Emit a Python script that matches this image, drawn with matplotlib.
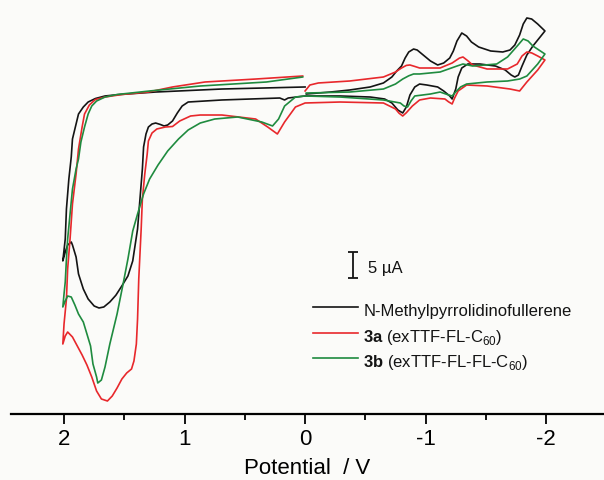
import numpy as np
import matplotlib
matplotlib.use("Agg")
import matplotlib.pyplot as plt

plt.rcParams['font.family'] = ['Liberation Sans', 'DejaVu Sans']
plt.rcParams['mathtext.fontset'] = 'custom'
plt.rcParams['mathtext.rm'] = 'Liberation Sans'
plt.rcParams['mathtext.bf'] = 'Liberation Sans:bold'
plt.rcParams['axes.unicode_minus'] = False

# cyclic voltammograms, potential in V, current in uA (cathodic up)
# each path: 0 -> -2 V, back to 0, on to +2 V, back to 0
nmp_potential = [-0.01, -0.21, -0.37, -0.54, -0.65, -0.72, -0.76, -0.80, -0.83, -0.86,
                 -0.90, -0.93, -0.97, -1.04, -1.10, -1.15, -1.20, -1.23, -1.26, -1.30,
                 -1.34, -1.38, -1.44, -1.54, -1.64, -1.70, -1.74, -1.78, -1.81, -1.84,
                 -1.88, -1.93, -1.99,
                 -1.95, -1.89, -1.84, -1.80, -1.77, -1.74, -1.71, -1.66, -1.58, -1.45,
                 -1.35, -1.30, -1.27, -1.25, -1.22, -1.20, -1.15, -1.10, -1.01, -0.95,
                 -0.91, -0.87, -0.84, -0.81, -0.77, -0.72, -0.66, -0.54, -0.29, 0.00,
                 0.14, 0.17, 0.21, 0.69, 0.97, 1.02, 1.06, 1.10, 1.14, 1.17,
                 1.20, 1.24, 1.27, 1.30, 1.32, 1.34, 1.35, 1.37, 1.39, 1.43,
                 1.47, 1.52, 1.57, 1.62, 1.67, 1.71, 1.75, 1.80, 1.84, 1.88,
                 1.90, 1.93, 1.94, 1.97, 1.99, 2.01,
                 1.99, 1.98, 1.96, 1.94, 1.93, 1.90, 1.88, 1.84, 1.80, 1.74,
                 1.66, 1.54, 1.24, 0.69, 0.00]
nmp_current = [0.0, 0.38, 0.77, 1.35, 2.12, 3.27, 4.42, 5.38, 6.92, 8.08,
               8.65, 8.46, 7.69, 6.35, 5.58, 5.96, 6.92, 8.27, 10.19, 11.73,
               11.15, 10.0, 9.04, 8.27, 8.08, 8.46, 9.42, 11.35, 13.46, 14.62,
               14.42, 13.46, 12.12,
               10.96, 9.23, 7.5, 5.38, 3.65, 3.27, 3.65, 4.62, 5.38, 5.77,
               5.77, 5.0, 3.27, 0.96, -0.96, -0.38, 0.58, 1.35, 1.73, 1.92,
               1.35, -0.19, -2.5, -3.65, -3.08, -1.73, -0.96, -0.58, -0.38, -0.38,
               -0.77, -1.15, -0.77, -1.15, -1.54, -2.31, -3.65, -5.19, -5.96, -6.15,
               -5.87, -5.58, -5.77, -6.35, -7.69, -10.19, -14.42, -20.19, -25.96, -32.1,
               -35.0, -36.9, -38.7, -40.0, -40.96, -41.15, -40.77, -39.42, -37.5, -34.6,
               -31.35, -29.04, -28.46, -29.04, -30.38, -32.1,
               -27.9, -22.1, -16.35, -12.1, -8.65, -5.77, -3.85, -2.5, -1.54, -0.87,
               -0.38, -0.1, 0.38, 0.96, 1.35]

c3a_potential = [0.00, -0.04, -0.11, -0.37, -0.65, -0.75, -0.80, -0.84, -0.87, -0.91,
                 -0.95, -1.12, -1.22, -1.28, -1.31, -1.35, -1.39, -1.51, -1.68, -1.76,
                 -1.80, -1.84, -1.88, -1.93, -1.99,
                 -1.93, -1.84, -1.78, -1.70, -1.51, -1.34, -1.27, -1.24, -1.22, -1.19,
                 -1.16, -1.04, -0.95, -0.89, -0.84, -0.81, -0.78, -0.75, -0.65, -0.29,
                 0.00,
                 0.08, 0.17, 0.23, 0.31, 0.41, 0.69, 0.87, 0.95, 1.04, 1.10,
                 1.16, 1.23, 1.27, 1.30, 1.31, 1.33, 1.35, 1.36, 1.38, 1.39,
                 1.40, 1.42, 1.44, 1.48, 1.52, 1.56, 1.60, 1.64, 1.69, 1.73,
                 1.77, 1.81, 1.85, 1.89, 1.93, 1.97, 1.99, 2.01,
                 2.00, 1.98, 1.97, 1.95, 1.93, 1.90, 1.88, 1.85, 1.83, 1.79,
                 1.74, 1.66, 1.52, 1.30, 1.10, 0.83, 0.41, 0.02]
c3a_current = [0.58, 1.73, 2.12, 2.5, 3.27, 4.23, 5.0, 5.5, 5.58, 5.3,
               5.0, 5.0, 5.96, 6.9, 7.12, 6.4, 5.58, 4.81, 4.81, 5.77,
               7.31, 8.08, 7.9, 7.31, 6.54,
               4.62, 2.31, 0.58, 0.96, 1.54, 1.73, 0.58, -0.8, -1.92, -1.5,
               -0.96, -0.77, -1.15, -2.31, -3.6, -4.23, -3.7, -2.88, -1.73, -1.54,
               -1.73,
               -2.5, -5.38, -7.69, -6.35, -4.81, -4.04, -4.04, -4.23, -5.19, -6.25,
               -6.35, -6.73, -7.5, -9.04, -11.54, -15.38, -20.19, -25.96, -35.58, -43.27,
               -48.08, -51.35, -52.88, -53.65, -54.81, -56.54, -58.08, -59.04, -58.65, -57.12,
               -54.42, -52.12, -50.19, -48.46, -46.73, -45.77, -46.54, -48.08,
               -44.23, -39.42, -33.65, -27.88, -21.15, -15.38, -10.58, -6.35, -3.85, -2.12,
               -1.06, -0.58, -0.1, 0.38, 1.35, 2.31, 2.88, 3.46]

c3b_potential = [-0.01, -0.37, -0.65, -0.75, -0.81, -0.86, -0.90, -0.95, -1.12, -1.26,
                 -1.31, -1.39, -1.59, -1.68, -1.76, -1.81, -1.85, -1.89, -1.99,
                 -1.93, -1.84, -1.78, -1.68, -1.51, -1.34, -1.29, -1.25, -1.22, -1.18,
                 -1.12, -1.04, -0.91, -0.88, -0.85, -0.82, -0.79, -0.65, -0.29, 0.00,
                 0.08, 0.17, 0.22, 0.27, 0.36, 0.56, 0.75, 0.87, 0.97, 1.05,
                 1.14, 1.22, 1.29, 1.34, 1.37, 1.39, 1.43, 1.47, 1.51, 1.56,
                 1.62, 1.66, 1.69, 1.72, 1.73, 1.76, 1.78, 1.81, 1.84, 1.88,
                 1.91, 1.94, 1.97, 1.99, 2.01,
                 2.00, 1.99, 1.98, 1.97, 1.95, 1.93, 1.90, 1.88, 1.86, 1.83,
                 1.80, 1.77, 1.73, 1.66, 1.56, 1.29, 0.87, 0.32, 0.02]
c3b_current = [0.19, 0.38, 0.96, 1.92, 2.88, 3.5, 3.85, 3.85, 4.23, 5.38,
               5.77, 5.38, 5.77, 7.12, 9.23, 10.58, 10.2, 9.23, 7.69,
               5.77, 3.46, 2.88, 2.5, 2.31, 1.92, 1.35, 0.4, -0.38, -0.1,
               0.38, 0.0, -0.38, -1.3, -2.5, -2.3, -1.73, -1.15, -0.58, -0.38,
               -0.58, -2.31, -4.81, -6.15, -5.38, -4.42, -4.81, -5.58, -6.92, -8.65,
               -10.96, -13.65, -16.35, -19.23, -21.54, -23.08, -26.35, -31.73, -36.54, -42.31,
               -48.08, -52.5, -55.0, -55.58, -54.42, -51.92, -48.46, -46.15, -43.85, -42.31,
               -40.58, -39.04, -38.85, -39.81, -40.96,
               -38.46, -36.15, -31.73, -27.88, -23.08, -18.27, -14.42, -12.5, -9.23, -6.35,
               -3.85, -2.31, -1.35, -0.58, -0.1, 0.58, 1.54, 2.31, 3.27]

series_labels = ['N-Methylpyrrolidinofullerene',
                 r'$\mathbf{3a}$ (exTTF-FL-C$_{60}$)',
                 r'$\mathbf{3b}$ (exTTF-FL-FL-C$_{60}$)']
series_colors = ['#141414', '#e8282c', '#1f8b3f']

# scale bar: 5 uA
scalebar_potential = -0.40
scalebar_center = -32.9
scalebar_size = 5.0

fig = plt.figure(figsize=(6.04, 4.81), dpi=100)
fig.patch.set_facecolor('#fbfbf9')
ax = fig.add_axes([11 / 604, 66 / 481, 593 / 604, 415 / 481])
ax.set_facecolor('#fbfbf9')

data = [(nmp_potential, nmp_current), (c3a_potential, c3a_current),
        (c3b_potential, c3b_current)]
for (pot, cur), col in zip(data, series_colors):
    ax.plot(pot, cur, color=col, lw=1.2, solid_joinstyle='round')

# scale bar
ax.errorbar([scalebar_potential], [scalebar_center], yerr=scalebar_size / 2,
            fmt='none', ecolor='#141414', elinewidth=1.3, capsize=3.5, capthick=1.3)
ax.text(scalebar_potential - 0.125, scalebar_center - 1.3, f'{scalebar_size:g} µA',
        fontsize=12, va='baseline', ha='left', color='#141414')

# legend, drawn by hand so the rows keep an even pitch
row_y = [0.2386, 0.1759, 0.1157]
for y, col, lab in zip(row_y, series_colors, series_labels):
    ax.plot([0.509, 0.585], [y + 0.019, y + 0.019], color=col, lw=1.2,
            transform=ax.transAxes)
    ax.text(0.594, y, lab, fontsize=12, va='baseline', ha='left',
            transform=ax.transAxes, color='#141414')

ax.set_xlim(2.44, -2.48)
ax.set_ylim(-61.54, 18.27)
ax.set_xticks([2, 1, 0, -1, -2])
ax.set_xticks([1.5, 0.5, -0.5, -1.5], minor=True)
ax.set_xticklabels(['2', '1', '0', '-1', '-2'])
ax.tick_params(axis='x', which='major', direction='out', length=7, width=1.3,
               labelsize=16, pad=3)
ax.tick_params(axis='x', which='minor', direction='out', length=4.5, width=1.3)
ax.set_yticks([])
for side in ['left', 'right', 'top']:
    ax.spines[side].set_visible(False)
ax.spines['bottom'].set_linewidth(1.6)
ax.set_xlabel('Potential  / V', fontsize=16, labelpad=6)

fig.savefig('out.png', dpi=100, facecolor=fig.get_facecolor())
